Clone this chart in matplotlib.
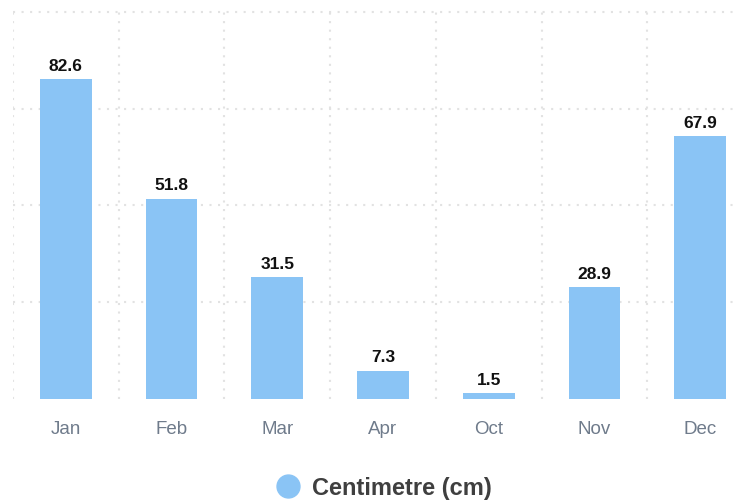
import matplotlib
matplotlib.use("Agg")
import matplotlib.pyplot as plt
from matplotlib.lines import Line2D

months = ["Jan", "Feb", "Mar", "Apr", "Oct", "Nov", "Dec"]
snowfall_cm = [82.6, 51.8, 31.5, 7.3, 1.5, 28.9, 67.9]
y_ticks = [25, 50, 75, 100]
series_name = "Centimetre (cm)"

BAR_COLOR = "#8ac4f5"
GRID_COLOR = "#e2e2e2"

plt.rcParams["font.family"] = ["Liberation Sans", "DejaVu Sans"]

fig = plt.figure(figsize=(7.36, 5.0), dpi=100)
# plot area runs a little past the right edge, like the original
ax = fig.add_axes([13 / 736, 101 / 500, 740 / 736, 389 / 500])

x = list(range(len(months)))
bars = ax.bar(x, snowfall_cm, width=0.49, color=BAR_COLOR, zorder=2)
ax.bar_label(bars, labels=[f"{v:.1f}" for v in snowfall_cm], padding=4,
             fontsize=12.5, fontweight="bold", color="#111111")

ax.set_xlim(-0.5, len(months) - 0.5)
ax.set_ylim(0, 100.5)

ax.set_xticks(x)
ax.set_xticklabels(months)
ax.set_xticks([i - 0.5 for i in range(len(months) + 1)], minor=True)
ax.set_yticks(y_ticks)
ax.tick_params(axis="x", which="both", length=0, pad=16, labelsize=13.5,
               labelcolor="#6f7b8b")
ax.tick_params(axis="y", length=0, labelleft=False)

dots = (0, (1, 3.1))
ax.grid(axis="y", which="major", color=GRID_COLOR, linestyle=dots, linewidth=1.5, zorder=0)
ax.grid(axis="x", which="minor", color=GRID_COLOR, linestyle=dots, linewidth=1.5, zorder=0)
ax.grid(axis="x", which="major", visible=False)

for spine in ax.spines.values():
    spine.set_visible(False)

handle = Line2D([], [], marker="o", linestyle="none", markersize=16.5,
                markerfacecolor=BAR_COLOR, markeredgecolor=BAR_COLOR)
fig.legend([handle], [series_name], loc="center", bbox_to_anchor=(0.514, 0.024),
           frameon=False, handletextpad=0.0, borderaxespad=0,
           prop={"size": 17, "weight": "bold"}, labelcolor="#3f3f3f")

fig.savefig("out.png", dpi=100)
